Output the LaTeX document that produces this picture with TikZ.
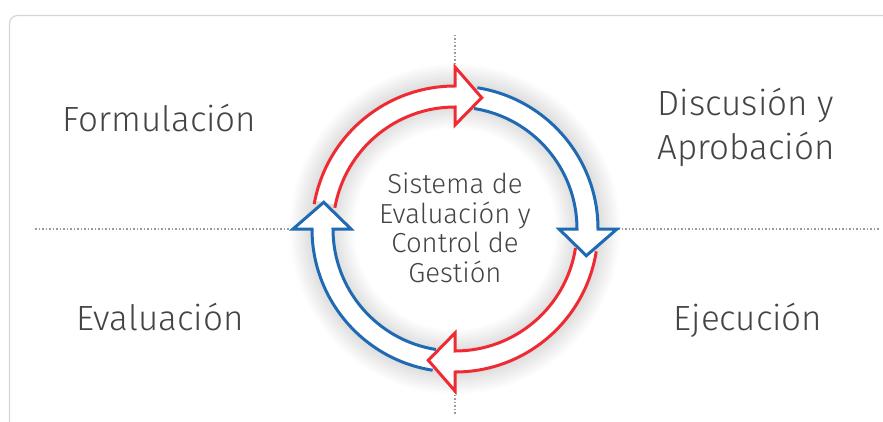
\documentclass[tikz,border=0pt]{standalone}
\usepackage{fontspec}
\setmainfont{Fira Sans Light}
\usetikzlibrary{calc}
\definecolor{rred}{HTML}{EE2B33}
\definecolor{rblue}{HTML}{1F6AB3}
\definecolor{txt}{HTML}{444444}
\definecolor{card}{HTML}{D6D6D6}
\definecolor{dots}{HTML}{9A9A9A}
\tikzset{
  lbl/.style={text=txt, font=\fontsize{35}{44.3}\selectfont, inner sep=0pt},
  ctr/.style={text=txt, font=\fontsize{27.5}{29.5}\selectfont, align=center, inner sep=0pt},
  dotline/.style={draw=dots, line width=1.3pt, dash pattern=on 1.5pt off 2pt},
  ringline/.style={line width=3pt, line join=miter, miter limit=10},
}
\newcommand\ringfill[2]{%
  \fill[white] ($(C)+(#1:143)$) arc[start angle=#1, end angle=#2, radius=143]
    -- ($(C)+(#2:162)$) -- ($(C)+(#2-11.5:134)$) -- ($(C)+(#2:104)$) -- ($(C)+(#2:122)$)
    arc[start angle=#2, end angle=#1, radius=122] -- cycle;}
\newcommand\ringdraw[3]{%
  \draw[ringline, #3] ($(C)+(#1:143)$) arc[start angle=#1, end angle=#2, radius=143]
    -- ($(C)+(#2:162)$) -- ($(C)+(#2-11.5:134)$) -- ($(C)+(#2:104)$) -- ($(C)+(#2:122)$)
    arc[start angle=#2, end angle=#1, radius=122];}
\begin{document}
\begin{tikzpicture}[x=1pt,y=1pt]
\useasboundingbox (0,0) rectangle (883,421);
\clip (0,0) rectangle (883,421);
\fill[white] (0,0) rectangle (883,421);
% card
\draw[card, line width=1.2pt, rounded corners=8pt] (9.5,-10) |- (900,405.5);
\coordinate (C) at (455,192);
% dotted axes
\coordinate (hl1) at (35,192);  \coordinate (hl2) at (290,192);
\coordinate (hr1) at (618,192); \coordinate (hr2) at (880,192);
\coordinate (vt1) at (455,386); \coordinate (vt2) at (455,356);
\coordinate (vb1) at (455,30);  \coordinate (vb2) at (455,6);
\draw[dotline] (hl1) -- (hl2);
\draw[dotline] (hr1) -- (hr2);
\draw[dotline] (vt1) -- (vt2);
\draw[dotline] (vb1) -- (vb2);
% soft glow
\foreach \w in {24,28,...,64} {
  \draw[black, opacity=0.012, line width=\w pt] (C) circle (133);
}
% arrows
\ringfill{168.5}{90}
\ringfill{81}{0}
\ringfill{-9}{-90}
\ringfill{-99}{-180}
\ringdraw{170}{90}{rred}
\ringdraw{81}{0}{rblue}
\ringdraw{-9}{-90}{rred}
\ringdraw{-99}{-180}{rblue}
% labels
\node[lbl, anchor=base] (f) at (159.5,289) {Formulación};
\node[lbl, anchor=base, align=center] (d) at (746,261) {Discusión y\\Aprobación};
\node[lbl, anchor=base] (e) at (160,91) {Evaluación};
\node[lbl, anchor=base] (j) at (748,91) {Ejecución};
\node[ctr] (s) at (455,193) {Sistema de\\Evaluación y\\Control de\\Gestión};
\end{tikzpicture}
\end{document}
